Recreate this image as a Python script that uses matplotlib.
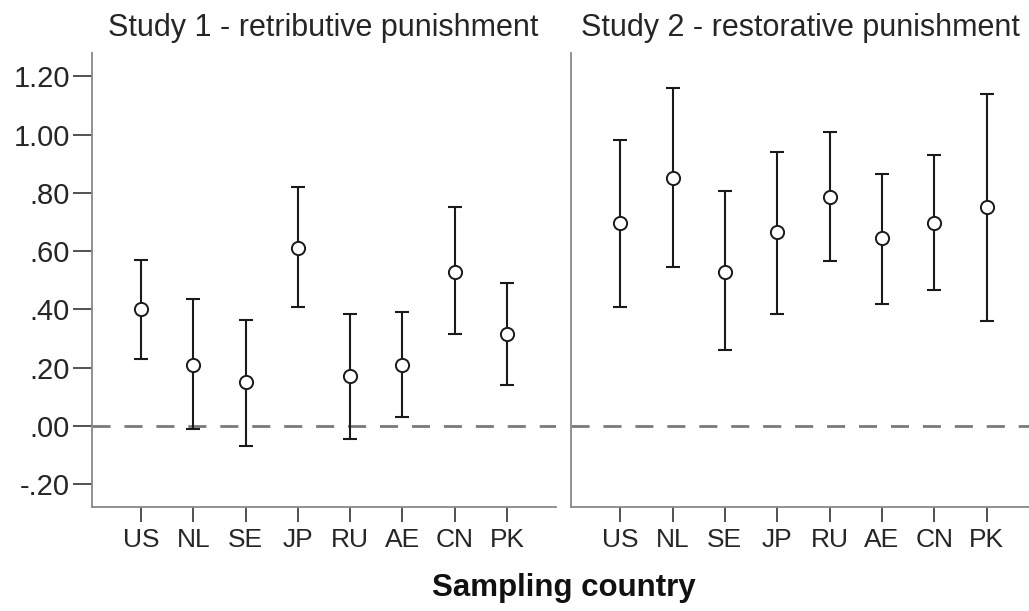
import numpy as np
import matplotlib
matplotlib.use("Agg")
import matplotlib.pyplot as plt

plt.rcParams['font.family'] = ['Liberation Sans', 'DejaVu Sans']

# dane
countries = ['US', 'NL', 'SE', 'JP', 'RU', 'AE', 'CN', 'PK']
titles = ['Study 1 - retributive punishment', 'Study 2 - restorative punishment']

mean1 = [0.40, 0.21, 0.15, 0.61, 0.17, 0.21, 0.53, 0.315]
low1 = [0.23, -0.01, -0.07, 0.41, -0.045, 0.03, 0.315, 0.14]
high1 = [0.57, 0.435, 0.365, 0.82, 0.385, 0.39, 0.75, 0.49]

mean2 = [0.695, 0.85, 0.53, 0.665, 0.785, 0.645, 0.695, 0.75]
low2 = [0.41, 0.545, 0.26, 0.385, 0.565, 0.42, 0.465, 0.36]
high2 = [0.98, 1.16, 0.805, 0.94, 1.01, 0.865, 0.93, 1.14]

yticks = [-0.2, 0.0, 0.2, 0.4, 0.6, 0.8, 1.0, 1.2]
ytick_labels = ['-.20', '.00', '.20', '.40', '.60', '.80', '1.00', '1.20']

W, H = 1029, 611
fig = plt.figure(figsize=(W / 100, H / 100), dpi=100)

# pozycje paneli w pikselach
ax1 = fig.add_axes([92 / W, (H - 507) / H, (556 - 92) / W, 454 / H])
ax2 = fig.add_axes([571 / W, (H - 507) / H, (W - 571) / W, 454 / H])

x = np.arange(len(countries))
panels = [(ax1, mean1, low1, high1, -0.94, 7.94, 323),
          (ax2, mean2, low2, high2, -0.94, 7.81, 800)]

for i, (ax, m, lo, hi, x0, x1, tx) in enumerate(panels):
    m = np.array(m)
    err = np.vstack([m - np.array(lo), np.array(hi) - m])
    ax.axhline(0, color='#7a7a7a', lw=2.0, dashes=(6.5, 5), zorder=1)
    ax.errorbar(x, m, yerr=err, fmt='none', ecolor='#1a1a1a', elinewidth=1.5,
                capsize=5, capthick=1.5, zorder=2)
    ax.plot(x, m, 'o', ms=9.5, mfc='white', mec='#1a1a1a', mew=1.4, zorder=3)
    ax.set_xlim(x0, x1)
    ax.set_ylim(-0.278, 1.28)
    ax.set_xticks(x)
    ax.set_xticklabels(countries, fontsize=19, color='#262626')
    ax.tick_params(axis='x', length=11, width=1.2, color='#333333', pad=4)
    for s in ['top', 'right']:
        ax.spines[s].set_visible(False)
    for s in ['left', 'bottom']:
        ax.spines[s].set_color('#888888')
        ax.spines[s].set_linewidth(1.3)
    if i == 0:
        ax.set_yticks(yticks)
        ax.set_yticklabels(ytick_labels, fontsize=21, color='#262626')
        ax.tick_params(axis='y', length=14, width=1.2, color='#333333', pad=2)
    else:
        ax.set_yticks([])
    fig.text(tx / W, 1 - 28 / H, titles[i], ha='center', va='center',
             fontsize=22, color='#262626')

fig.text(564 / W, 1 - 588 / H, 'Sampling country', ha='center', va='center',
         fontsize=22.5, fontweight='bold', color='#111111')

fig.savefig('out.png', dpi=100)
